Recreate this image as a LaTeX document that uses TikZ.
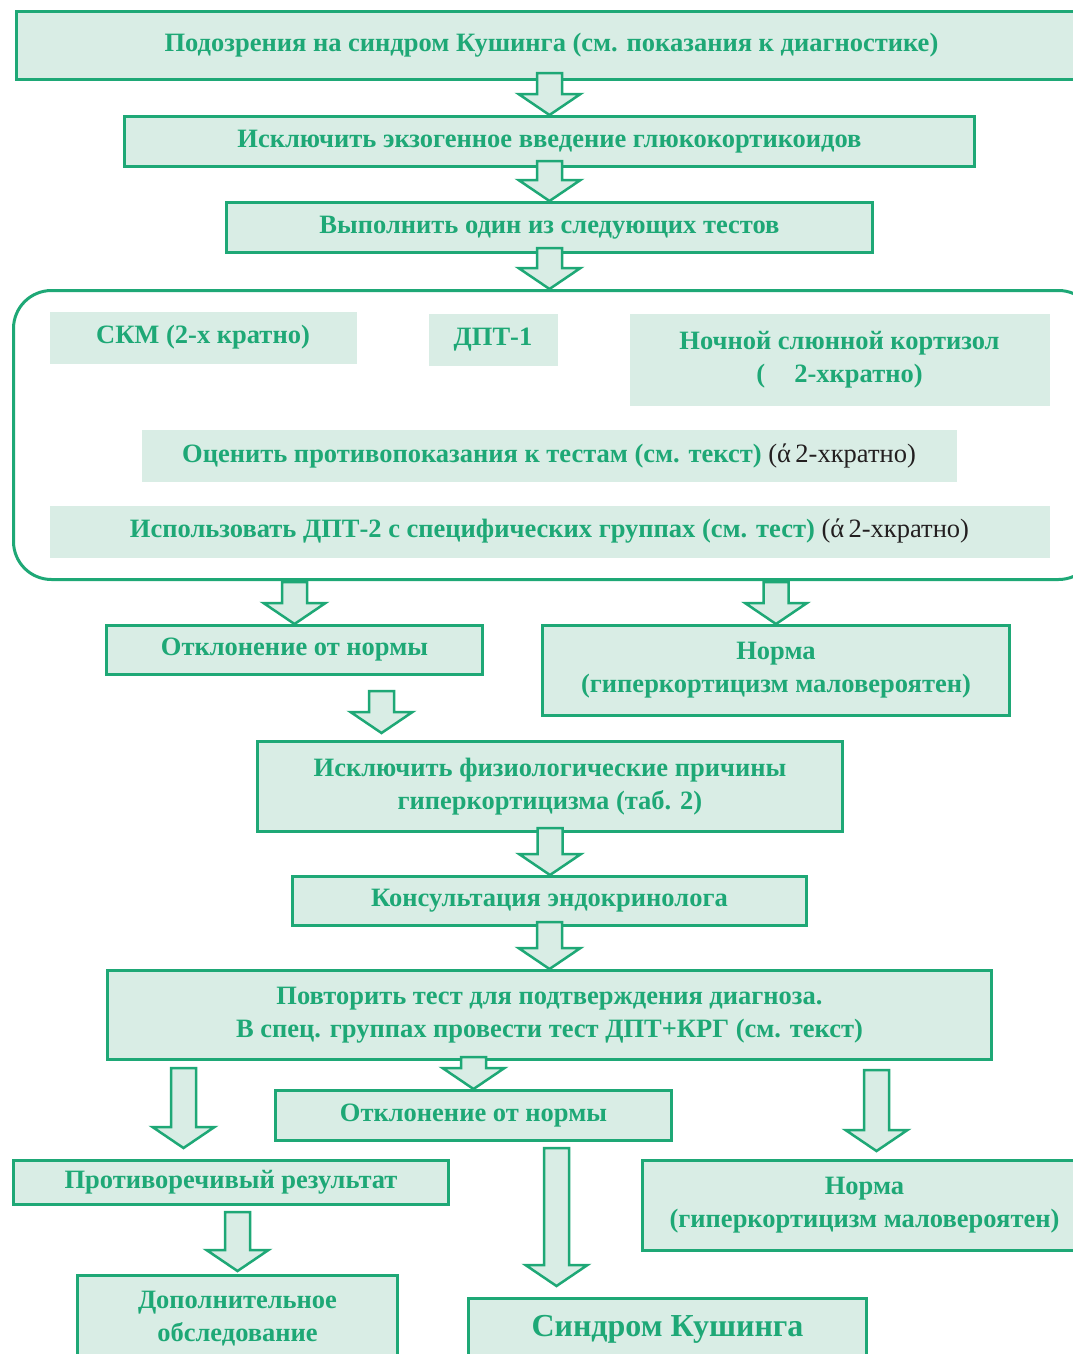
\documentclass[tikz,border=0pt]{standalone}
\usepackage{fontspec}
\setmainfont{Liberation Serif}
\usepackage{tikz}
\usetikzlibrary{calc, positioning}

\definecolor{kgreen}{RGB}{30,168,118}
\definecolor{kmint}{RGB}{217,237,229}
\definecolor{knote}{RGB}{35,31,32}

% hollow down arrow: x of the tail, y of tail and tip
\newcommand{\blockarrow}[2]{%
  \draw[blk] let \p1=(#1), \p2=(#2) in
    (\x1-12.5pt,\y1) -- (\x1-12.5pt,\y2+21pt) -- (\x1-31pt,\y2+21pt) -- (\x1,\y2)
    -- (\x1+31pt,\y2+21pt) -- (\x1+12.5pt,\y2+21pt) -- (\x1+12.5pt,\y1) -- cycle;}
\newcommand{\twox}{{\mdseries\color{knote}(ά\,2-хкратно)}}

\begin{document}
\begin{tikzpicture}[
        x=1pt, y=-1pt,
        box/.style = {
            draw=kgreen,
            line width=3pt,
            fill=kmint,
            text=kgreen,
            font=\fontsize{26.5}{33}\selectfont\bfseries,
            align=center,
            anchor=north west,
            inner sep=0pt
        },
        flat/.style = {
            box,
            draw=none
        },
        group/.style = {
            draw=kgreen,
            line width=3pt,
            rounded corners=38pt,
            anchor=north west,
            inner sep=0pt
        },
        blk/.style = {
            draw=kgreen,
            fill=kmint,
            line width=2.5pt
        }
    ]
        \useasboundingbox[fill=white] (0,0) rectangle (1073,1354);
        \clip (0,0) rectangle (1073,1354);

        % upper column
        \node [box, minimum width=1070pt, minimum height=68pt]  (susp)    at (15,10)    {Подозрения на синдром Кушинга (см. показания к диагностике)};
        \node [box, minimum width=850pt, minimum height=50pt]   (excl)    at (123,115)  {Исключить экзогенное введение глюкокортикоидов};
        \node [box, minimum width=646pt, minimum height=50pt]   (tests)   at (225,201)  {Выполнить один из следующих тестов};

        % the tests
        \node [group, minimum width=1083pt, minimum height=289pt] (grp)   at (12,289)   {};
        \node [flat, minimum width=307pt, minimum height=52pt]  (skm)     at (48,310)   {СКМ (2-х кратно)};
        \node [flat, minimum width=129pt, minimum height=52pt]  (dpt)     at (427,312)  {ДПТ-1};
        \node [flat, minimum width=420pt, minimum height=92pt]  (night)   at (628,312)  {Ночной слюнной кортизол\\(\hspace{1.1em}2-хкратно)};
        \node [flat, minimum width=815pt, minimum height=52pt]  (assess)  at (140,428)  {Оценить противопоказания к тестам (см. текст) \twox};
        \node [flat, minimum width=1000pt, minimum height=52pt] (usedpt)  at (48,504)   {Использовать ДПТ-2 с специфических группах (см. тест) \twox};

        % first result
        \node [box, minimum width=376pt, minimum height=49pt]   (abn)     at (105,624)  {Отклонение от нормы};
        \node [box, minimum width=467pt, minimum height=90pt]   (norm)    at (541,624)  {Норма\\(гиперкортицизм маловероятен)};
        \node [box, minimum width=585pt, minimum height=90pt]   (physio)  at (256,740)  {Исключить физиологические причины\\гиперкортицизма (таб. 2)};
        \node [box, minimum width=514pt, minimum height=49pt]   (consult) at (291,875)  {Консультация эндокринолога};
        \node [box, minimum width=884pt, minimum height=89pt]   (repeat)  at (106,969)  {Повторить тест для подтверждения диагноза.\\В спец. группах провести тест ДПТ+КРГ (см. текст)};

        % second result
        \node [box, minimum width=396pt, minimum height=50pt]   (abntwo)  at (274,1089) {Отклонение от нормы};
        \node [box, minimum width=435pt, minimum height=44pt]   (contra)  at (12,1159)  {Противоречивый результат};
        \node [box, minimum width=444pt, minimum height=90pt]   (normtwo) at (641,1159) {Норма\\(гиперкортицизм маловероятен)};
        \node [box, minimum width=320pt, minimum height=86pt]   (extra)   at (76,1274)  {Дополнительное\\обследование};
        \node [box, minimum width=398pt, minimum height=62pt, font=\fontsize{32}{38}\selectfont\bfseries] (cushing) at (467,1297) {Синдром Кушинга};

        \blockarrow{$(susp.south)+(-2,-8)$}{excl.north}
        \blockarrow{$(excl.south)+(0,-7)$}{tests.north}
        \blockarrow{$(tests.south)+(0,-6)$}{grp.north}
        \blockarrow{$(abn.north)+(0,-42)$}{abn.north}
        \blockarrow{$(norm.north)+(0,-42)$}{norm.north}
        \blockarrow{$(abn.south)+(87,15)$}{$(physio.north)+(0,-7)$}
        \blockarrow{$(physio.south)+(0,-5)$}{consult.north}
        \blockarrow{$(consult.south)+(0,-5)$}{repeat.north}
        \blockarrow{$(repeat.south)+(-366,7)$}{$(contra.north)+(0,-11)$}
        \blockarrow{$(abntwo.north)+(0,-32)$}{abntwo.north}
        \blockarrow{$(repeat.south)+(327,9)$}{$(normtwo.north)+(0,-8)$}
        \blockarrow{$(abntwo.south)+(83,6)$}{$(cushing.north)+(0,-11)$}
        \blockarrow{$(extra.north)+(0,-62)$}{$(extra.north)+(0,-3)$}
    \end{tikzpicture}
\end{document}
